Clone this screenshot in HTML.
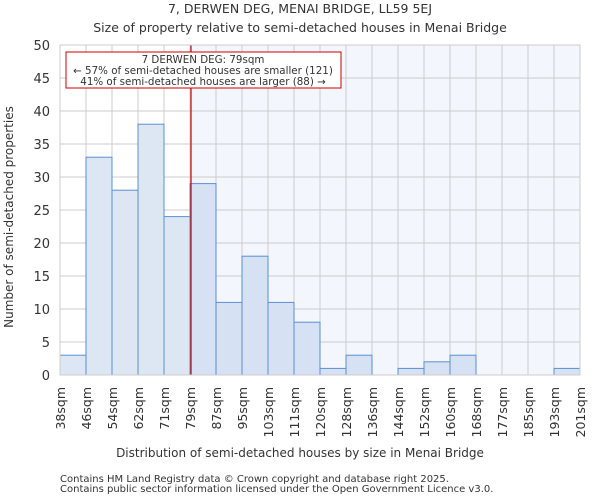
<!DOCTYPE html>
<html><head><meta charset="utf-8"><style>
body{margin:0;background:#fff;font-family:"DejaVu Sans","Liberation Sans",sans-serif}
text{font-family:"DejaVu Sans","Liberation Sans",sans-serif;fill:#333}
</style></head><body>
<svg id="chart" width="600" height="500">
<text x="300" y="13" text-anchor="middle" font-size="12.5">7, DERWEN DEG, MENAI BRIDGE, LL59 5EJ</text>
<text x="300" y="32" text-anchor="middle" font-size="12.5">Size of property relative to semi-detached houses in Menai Bridge</text>
<g id="plot"></g>
<text x="300" y="457" text-anchor="middle" font-size="12">Distribution of semi-detached houses by size in Menai Bridge</text>
<text transform="translate(13,217) rotate(-90)" text-anchor="middle" font-size="12">Number of semi-detached properties</text>
<text x="60" y="482" font-size="10" fill="#555">Contains HM Land Registry data © Crown copyright and database right 2025.</text>
<text x="60" y="492" font-size="10" fill="#555">Contains public sector information licensed under the Open Government Licence v3.0.</text>
</svg>
<script>
const binLabels=["38sqm","46sqm","54sqm","62sqm","71sqm","79sqm","87sqm","95sqm","103sqm","111sqm","120sqm","128sqm","136sqm","144sqm","152sqm","160sqm","168sqm","177sqm","185sqm","193sqm","201sqm"];
const counts=[3,33,28,38,24,29,11,18,11,8,1,3,0,1,2,3,0,0,0,1];
const yTicks=[0,5,10,15,20,25,30,35,40,45,50];
const markerBin=5;
const L=60,R=580,T=45,B=375,yMax=50;
const n=counts.length,bw=(R-L)/n;
const xs=i=>L+i*bw, ys=v=>B-(v/yMax)*(B-T);
const ns="http://www.w3.org/2000/svg",g=document.getElementById('plot');
function mk(t,a,p){const e=document.createElementNS(ns,t);for(const k in a)e.setAttribute(k,a[k]);(p||g).appendChild(e);return e;}
let e=mk('rect',{x:xs(markerBin),y:T,width:R-xs(markerBin),height:B-T,fill:'#f3f6fd'});


yTicks.forEach(v=>{let l=mk('line',{x1:L,x2:R,y1:ys(v),y2:ys(v),stroke:'#ccc'});


let t=mk('text',{x:L-10,y:ys(v)+5,'text-anchor':'end','font-size':13});t.textContent=v;

});
binLabels.forEach((s,i)=>{let l=mk('line',{x1:xs(i),x2:xs(i),y1:T,y2:B,stroke:'#ccc'});


let t=mk('text',{'text-anchor':'end','font-size':12.5,transform:`translate(${xs(i)+5},${B+12}) rotate(-90)`});t.textContent=s;

});
counts.forEach((v,i)=>{if(v<=0)return;let r=mk('rect',{x:xs(i),y:ys(v),width:bw,height:B-ys(v),fill:i>=markerBin?'#d6e1f4':'#dde7f4',stroke:'#5a8fd4','stroke-width':1});

});
let m=mk('line',{x1:xs(markerBin)+1,x2:xs(markerBin)+1,y1:T,y2:B,stroke:'#c00','stroke-width':1.2});


let bx=mk('rect',{x:66,y:52,width:275,height:36,fill:'#fff',stroke:'#c00'});


["7 DERWEN DEG: 79sqm","← 57% of semi-detached houses are smaller (121)","41% of semi-detached houses are larger (88) →"].forEach((s,i)=>{let t=mk('text',{x:203,y:63+i*11,'text-anchor':'middle','font-size':10.3});t.textContent=s;

});
let ax=mk('rect',{x:L,y:T,width:R-L,height:B-T,fill:'none',stroke:'#ccc'});


</script>
</body></html>
